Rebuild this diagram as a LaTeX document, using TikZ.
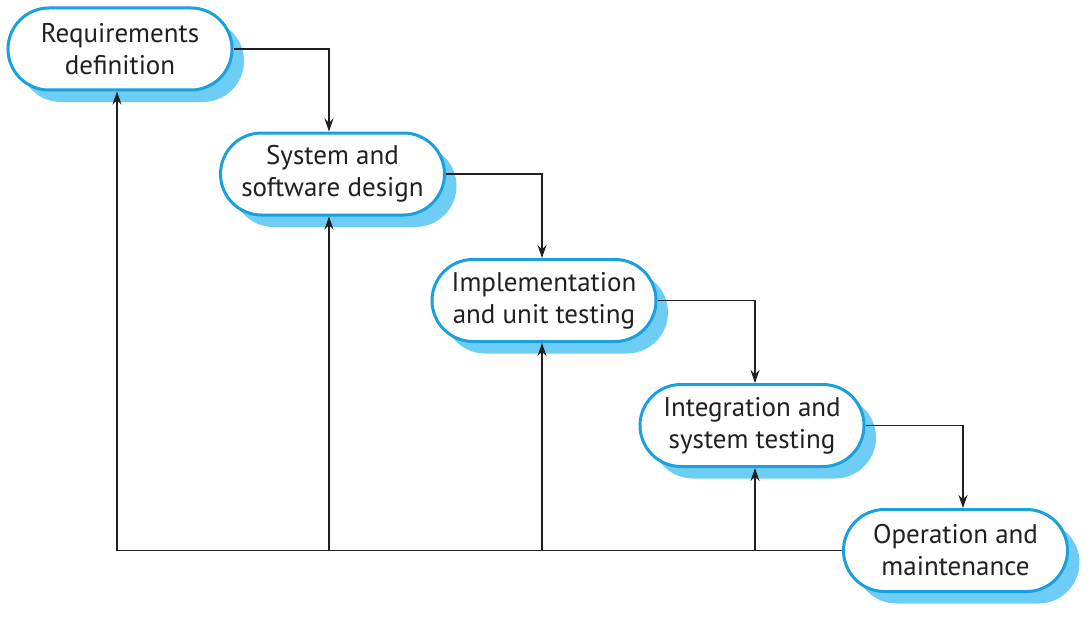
\documentclass[tikz,border=0pt]{standalone}
\usepackage{fontspec}
\setmainfont{PT Sans}
\usetikzlibrary{shapes.misc,arrows.meta,shadows}
\definecolor{bord}{RGB}{27,160,222}
\definecolor{shad}{RGB}{110,205,245}
\definecolor{ink}{RGB}{35,31,32}
\tikzset{
  phase/.style={rounded rectangle, draw=bord, line width=3pt, fill=white,
    minimum width=224pt, minimum height=82pt, inner sep=0pt, align=center,
    text=ink, font=\fontsize{27}{32}\selectfont,
    copy shadow={shadow xshift=12pt, shadow yshift=-12pt, fill=shad, draw=none, opacity=1}},
  flow/.style={draw=ink, line width=1.2pt, -{Stealth[length=13pt,width=9pt]}}
}
\begin{document}
\begin{tikzpicture}[x=1pt,y=-1pt]
\useasboundingbox (0,0) rectangle (1090,618);
\node[phase] (r) at (120,49) {Requirements\\definition};
\node[phase] (s) at (332.5,174) {System and\\software design};
\node[phase] (i) at (544,300.5) {Implementation\\and unit testing};
\node[phase] (t) at (752,425.5) {Integration and\\system testing};
\node[phase] (o) at (955.5,550.5) {Operation and\\maintenance};
\coordinate (c1) at (117,0);
\coordinate (c2) at (329,0);
\coordinate (c3) at (542,0);
\coordinate (c4) at (755,0);
\coordinate (c5) at (963,0);
\draw[flow] (r.east) -| (s.north -| c2);
\draw[flow] (s.east) -| (i.north -| c3);
\draw[flow] (i.east) -| (t.north -| c4);
\draw[flow] (t.east) -| (o.north -| c5);
\draw[flow] (o.west) -| (r.south -| c1);
\draw[flow] (c2 |- o.west) -- (s.south -| c2);
\draw[flow] (c3 |- o.west) -- (i.south -| c3);
\draw[flow] (c4 |- o.west) -- (t.south -| c4);
\end{tikzpicture}
\end{document}
